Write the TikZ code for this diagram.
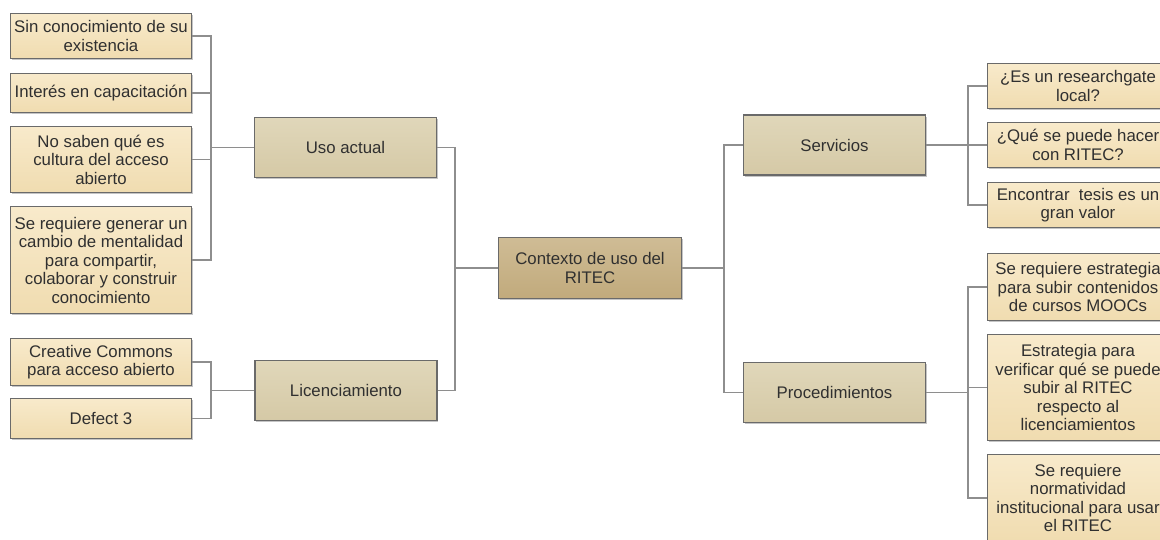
\documentclass[tikz,border=0pt]{standalone}
\usepackage{fontspec}
\setmainfont{Liberation Sans}
\usetikzlibrary{shadows}
\definecolor{linec}{HTML}{8E8E8E}
\definecolor{bordc}{HTML}{6A6A6A}
\definecolor{textc}{HTML}{303030}
\definecolor{leafT}{HTML}{F8EACB}
\definecolor{leafB}{HTML}{F0DCB0}
\definecolor{midT}{HTML}{E0D7BA}
\definecolor{midB}{HTML}{D5C9A6}
\definecolor{ctrT}{HTML}{CFBC95}
\definecolor{ctrB}{HTML}{C1AA7C}
\begin{document}
\begin{tikzpicture}[x=1pt,y=-1pt,
  box/.style={draw=bordc, line width=1.3pt, align=center, text=textc,
    font=\fontsize{16.8}{18.5}\selectfont, inner sep=0pt,
    drop shadow={shadow xshift=1.4pt,shadow yshift=-1.8pt,opacity=0.45}},
  leaf/.style={box, minimum width=181pt, top color=leafT, bottom color=leafB},
  midbox/.style={box, minimum width=182pt, minimum height=60pt, top color=midT, bottom color=midB},
  ctrbox/.style={box, minimum width=183pt, minimum height=61pt, top color=ctrT, bottom color=ctrB},
  conn/.style={draw=linec, line width=1.5pt}]
\useasboundingbox (0,0) rectangle (1160,540);
\fill[white] (0,0) rectangle (1160,540);
\clip (0,0) rectangle (1160,540);

% center
\node[ctrbox] (ctx) at (590,268) {Contexto de uso del\\RITEC};

% middle level
\node[midbox] (uso) at (345.5,147.5) {Uso actual};
\node[midbox] (lic) at (346,390.5) {Licenciamiento};
\node[midbox] (serv) at (834.5,145) {Servicios};
\node[midbox] (proc) at (834.5,392.5) {Procedimientos};

% left leaves
\node[leaf, minimum height=45pt] (l1) at (101,36) {Sin conocimiento de su\\existencia};
\node[leaf, minimum height=39pt] (l2) at (101,93) {Interés en capacitación};
\node[leaf, minimum height=66pt] (l3) at (101,159.5) {No saben qué es\\cultura del acceso\\abierto};
\node[leaf, minimum height=107pt] (l4) at (101,260) {Se requiere generar un\\cambio de mentalidad\\para compartir,\\colaborar y construir\\conocimiento};
\node[leaf, minimum height=47pt] (l5) at (101,362) {Creative Commons\\para acceso abierto};
\node[leaf, minimum height=40pt] (l6) at (101,418.5) {Defect 3};

% right leaves
\node[leaf, minimum height=45pt] (r1) at (1078,86) {¿Es un researchgate\\local?};
\node[leaf, minimum height=45pt] (r2) at (1078,145) {¿Qué se puede hacer\\con RITEC?};
\node[leaf, minimum height=45pt] (r3) at (1078,205) {Encontrar~ tesis es un\\gran valor};
\node[leaf, minimum height=67pt] (r4) at (1078,287) {Se requiere estrategia\\para subir contenidos\\de cursos MOOCs};
\node[leaf, minimum height=106pt] (r5) at (1078,387.5) {Estrategia para\\verificar qué se puede\\subir al RITEC\\respecto al\\licenciamientos};
\node[leaf, minimum height=87pt] (r6) at (1078,498) {Se requiere\\normatividad\\institucional para usar\\el RITEC};

% bus coordinates
\coordinate (bu) at (211,147.5);
\coordinate (bl) at (211,390.5);
\coordinate (bc) at (455,268);
\coordinate (br) at (724,268);
\coordinate (bs) at (968,145);
\coordinate (bp) at (968,392.5);

% connectors
\foreach \n in {l1,l2,l3,l4} \draw[conn] (\n.east) -| (bu);
\draw[conn] (bu) -- (uso.west);
\foreach \n in {l5,l6} \draw[conn] (\n.east) -| (bl);
\draw[conn] (bl) -- (lic.west);
\draw[conn] (uso.east) -| (bc);
\draw[conn] (lic.east) -| (bc);
\draw[conn] (bc) -- (ctx.west);
\draw[conn] (ctx.east) -- (br);
\draw[conn] (serv.west) -| (br);
\draw[conn] (proc.west) -| (br);
\foreach \n in {r1,r2,r3} \draw[conn] (\n.west) -| (bs);
\draw[conn] (serv.east) -- (bs);
\foreach \n in {r4,r5,r6} \draw[conn] (\n.west) -| (bp);
\draw[conn] (proc.east) -- (bp);
\end{tikzpicture}
\end{document}
